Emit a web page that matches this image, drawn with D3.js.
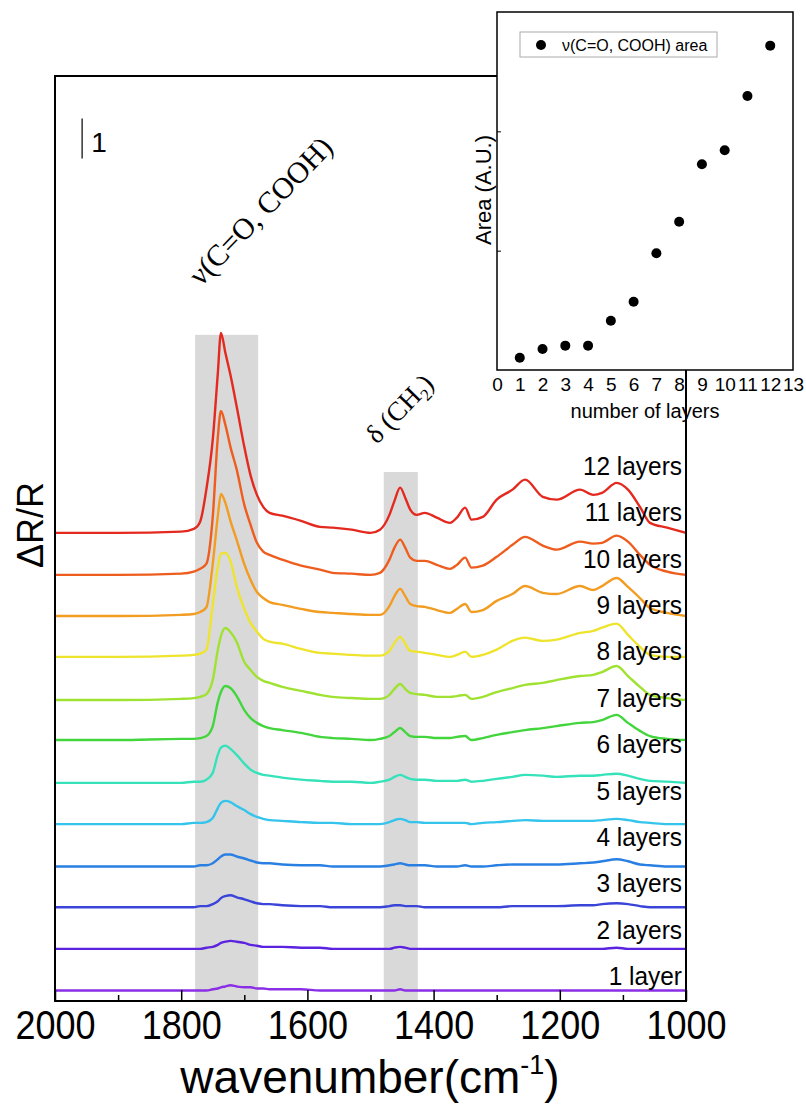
<!DOCTYPE html>
<html>
<head>
<meta charset="utf-8">
<script src="https://cdn.jsdelivr.net/npm/d3@7"></script>
<style>
  body { margin: 0; background: #fff; }
  svg { display: block; }
</style>
</head>
<body>
<script>
// wavenumber grid (cm-1) shared by all spectra
const wavenumbers = [2000,1900,1800,1780,1770,1760,1750,1742,1737,1730,1722,1712,1700,1690,1680,1670,1660,1640,1610,1580,1560,1530,1500,1485,1470,1462,1453,1445,1437,1427,1414,1395,1374,1363,1350,1340,1322,1300,1275,1255,1227,1205,1168,1147,1133,1110,1092,1073,1057,1030,1000];

// ΔR/R of each spectrum above its own baseline (units of the "1" scale bar)
const layer1  = [0,0,0,0,0,0,.03,.05,.08,.1,.13,.1,.08,.08,.05,.05,.03,.03,.03,0,0,0,0,0,0,0,.03,0,0,0,0,0,0,0,0,0,0,0,0,0,0,0,0,0,0,0,0,0,0,0,0];
const layer2  = [0,0,0,0,0,.03,.05,.1,.15,.18,.2,.18,.15,.1,.08,.05,.05,.05,.03,.03,0,0,0,0,0,.03,.05,.03,0,0,0,0,0,0,0,0,0,0,0,0,0,0,0,0,0,.03,0,0,0,0,0];
const layer3  = [0,0,0,0,.03,.03,.08,.15,.23,.28,.3,.25,.2,.15,.1,.08,.08,.05,.03,.03,0,0,0,0,.03,.05,.05,.03,.03,.03,0,0,0,0,0,0,0,0,.03,.03,.03,.03,.05,.05,.08,.1,.08,.03,0,0,0];
const layer4  = [0,0,0,0,.03,.03,.08,.18,.25,.3,.3,.25,.2,.15,.1,.08,.08,.05,.03,.03,0,0,0,0,.03,.05,.08,.05,.03,.03,.03,0,0,0,.03,0,0,.03,.05,.05,.05,.05,.08,.1,.13,.18,.13,.05,.03,0,0];
const layer5  = [0,0,0,.03,.03,.05,.15,.4,.53,.58,.55,.45,.35,.25,.18,.13,.1,.08,.05,.03,.03,0,0,0,.05,.1,.13,.1,.05,.05,.03,.03,.03,.03,.03,0,.03,.05,.08,.1,.08,.08,.08,.08,.1,.13,.1,.05,.03,0,0];
const layer6  = [0,0,0,.03,.03,.08,.25,.7,.88,.93,.85,.7,.48,.33,.25,.2,.18,.13,.08,.05,.03,.03,0,.03,.08,.15,.2,.15,.1,.08,.08,.05,.05,.05,.08,.03,.05,.1,.15,.2,.18,.15,.18,.18,.2,.23,.18,.1,.05,.03,0];
const layer7  = [0,0,.03,.03,.05,.1,.35,.95,1.2,1.35,1.3,1.1,.75,.55,.43,.35,.3,.25,.18,.08,.05,.03,0,.03,.1,.2,.3,.2,.1,.08,.08,.05,.05,.08,.1,0,.05,.13,.2,.25,.3,.35,.43,.45,.5,.63,.43,.23,.1,.03,0];
const layer8  = [0,0,.03,.05,.08,.15,.5,1.25,1.6,1.8,1.7,1.45,.95,.75,.58,.48,.43,.33,.23,.13,.08,.05,.03,.03,.13,.28,.4,.28,.18,.15,.13,.08,.08,.1,.13,.03,.08,.2,.3,.38,.43,.5,.6,.63,.7,.85,.6,.33,.13,.05,0];
const layer9  = [0,0,.03,.05,.08,.18,1.3,2.25,2.58,2.6,2.4,1.75,1.2,.85,.63,.45,.38,.33,.2,.1,.08,.05,.03,.03,.15,.35,.5,.33,.15,.13,.1,.05,0,.05,.13,0,.05,.18,.4,.48,.4,.43,.6,.65,.73,.83,.55,.25,.05,0,0];
const layer10 = [0,0,.03,.05,.1,.22,1.3,2.5,3.05,2.83,2.38,1.9,1.3,.9,.6,.45,.35,.28,.18,.1,.08,.05,.03,.03,.25,.5,.68,.5,.3,.25,.23,.15,.08,.18,.3,.1,.15,.38,.55,.75,.58,.55,.75,.65,.75,.95,.73,.45,.2,.08,0];
const layer11 = [0,0,.03,.08,.15,.28,1.45,3.43,4.1,3.75,3.2,2.63,1.75,1.25,.8,.58,.5,.38,.23,.13,.05,.03,0,.05,.38,.68,.88,.68,.43,.35,.35,.25,.15,.25,.43,.18,.23,.45,.75,.95,.73,.63,.83,.78,.8,.98,.83,.5,.25,.08,0];
const layer12 = [0,0,.03,.1,.28,1.1,2.33,3.98,5,4.5,3.95,3.15,2.15,1.43,.95,.65,.5,.43,.3,.15,.13,.08,0,.08,.45,.8,1.13,.88,.58,.45,.5,.38,.25,.38,.63,.33,.4,.83,1.08,1.33,.9,.83,1.08,.95,1,1.25,1.08,.65,.25,.13,0];

const layerCounts = [1,2,3,4,5,6,7,8,9,10,11,12];
const spectra = [layer1,layer2,layer3,layer4,layer5,layer6,layer7,layer8,layer9,layer10,layer11,layer12];
// vertical offset of each spectrum (stacked plot)
const offsets = [0,1.04,2.08,3.1,4.16,5.19,6.26,7.26,8.34,9.36,10.39,11.44];
const colors = ["#8b2fe6","#5b22e0","#3a44d8","#2a80e2","#34c4ec","#36e2ba","#42d63c","#a0e232","#eee42e","#f29c22","#ee5d1e","#e4291f"];

// highlighted bands [from, to] in cm-1 and their top in ΔR/R units
const bandRanges = [[1778,1678],[1479,1425]];
const bandTops = [16.39,12.96];

const xTicks = [2000,1800,1600,1400,1200,1000];
const xMinorTicks = [1900,1700,1500,1300,1100];

// inset: ν(C=O, COOH) area vs number of layers
const insetLayers = [1,2,3,4,5,6,7,8,9,10,11,12];
const insetArea = [0.103,0.176,0.204,0.204,0.413,0.572,0.978,1.243,1.724,1.841,2.296,2.718];
const insetXTicks = [0,1,2,3,4,5,6,7,8,9,10,11,12,13];
const insetYTicks = [1,2];

const W = 806, H = 1106;
const sans = "'Liberation Sans', Arial, sans-serif";
const serif = "'Liberation Serif', 'Times New Roman', serif";

const svg = d3.select("body").append("svg")
  .attr("width", W)
  .attr("height", H)
  .style("font-family", sans);

const x = d3.scaleLinear().domain([2000, 1000]).range([55, 686]);
const y = d3.scaleLinear().domain([-0.2625, 22.86]).range([1001, 76]);

// grey bands
svg.append("g").selectAll("rect")
  .data(bandRanges)
  .join("rect")
  .attr("x", d => x(d[0]))
  .attr("width", d => x(d[1]) - x(d[0]))
  .attr("y", (d, i) => y(bandTops[i]))
  .attr("height", (d, i) => y.range()[0] - y(bandTops[i]))
  .attr("fill", "#d9d9d9");

// spectra
spectra.forEach((vals, i) => {
  const line = d3.line()
    .x((v, j) => x(wavenumbers[j]))
    .y(v => y(v + offsets[i]))
    .curve(d3.curveMonotoneX);
  svg.append("path")
    .attr("d", line(vals))
    .attr("fill", "none")
    .attr("stroke", colors[i])
    .attr("stroke-width", 2.4)
    .attr("stroke-linejoin", "round");
});

// layer labels
const labelY = d3.scaleLinear().domain([1, 12]).range([985, 475]);
svg.append("g").selectAll("text")
  .data(layerCounts)
  .join("text")
  .attr("transform", d => `translate(682,${labelY(d)}) scale(0.94,1)`)
  .attr("text-anchor", "end")
  .attr("font-size", 26)
  .text(d => d === 1 ? "1 layer" : d + " layers");

// x axis with inward ticks
svg.append("g")
  .attr("transform", `translate(0,${y.range()[0]})`)
  .call(d3.axisBottom(x).tickValues(xMinorTicks).tickSizeInner(-6).tickSizeOuter(0).tickFormat(""))
  .call(g => g.select(".domain").remove())
  .call(g => g.selectAll("line").attr("stroke", "#000").attr("stroke-width", 1.5));

svg.append("g")
  .attr("transform", `translate(0,${y.range()[0]})`)
  .call(d3.axisBottom(x).tickValues(xTicks).tickSizeInner(-11).tickSizeOuter(0).tickPadding(10).tickFormat(d3.format("d")))
  .call(g => g.select(".domain").remove())
  .call(g => g.selectAll("line").attr("stroke", "#000").attr("stroke-width", 1.5))
  .call(g => g.selectAll("text")
    .attr("font-size", 40).attr("font-family", sans).attr("fill", "#000")
    .attr("transform", "scale(0.9,1)"));

// frame
svg.append("rect")
  .attr("x", x.range()[0]).attr("y", y.range()[1])
  .attr("width", x.range()[1] - x.range()[0])
  .attr("height", y.range()[0] - y.range()[1])
  .attr("fill", "none").attr("stroke", "#000").attr("stroke-width", 2);

// axis titles
const xt = svg.append("text")
  .attr("x", 370).attr("y", 1093)
  .attr("text-anchor", "middle")
  .attr("font-size", 46);
xt.append("tspan").text("wavenumber(cm");
xt.append("tspan").attr("font-size", 27).attr("dy", -19).text("-1");
xt.append("tspan").attr("dy", 19).text(")");

svg.append("text")
  .attr("transform", "translate(43,525) rotate(-90)")
  .attr("text-anchor", "middle")
  .attr("font-size", 36)
  .text("ΔR/R");

// scale bar
svg.append("line")
  .attr("x1", x(1957)).attr("x2", x(1957))
  .attr("y1", y(20.8)).attr("y2", y(21.8))
  .attr("stroke", "#333").attr("stroke-width", 1.5);
svg.append("text")
  .attr("x", x(1957) + 9).attr("y", y(20.95))
  .attr("font-size", 28)
  .text("1");

// band annotations
svg.append("text")
  .attr("transform", "translate(201,287) rotate(-46)")
  .attr("font-family", serif)
  .attr("font-size", 30)
  .text("ν(C=O, COOH)");

const dl = svg.append("text")
  .attr("transform", "translate(377,445) rotate(-46)")
  .attr("font-family", serif)
  .attr("font-size", 27);
dl.append("tspan").text("δ (CH");
dl.append("tspan").attr("font-size", 17).attr("dy", 6).text("2");
dl.append("tspan").attr("dy", -6).text(")");

// ---------- inset ----------
const ix = d3.scaleLinear().domain([0, 13]).range([497, 793]);
const iy = d3.scaleLinear().domain([0, 3]).range([370, 12]);

svg.append("rect")
  .attr("x", ix.range()[0]).attr("y", iy.range()[1])
  .attr("width", ix.range()[1] - ix.range()[0])
  .attr("height", iy.range()[0] - iy.range()[1])
  .attr("fill", "#fff").attr("stroke", "#000").attr("stroke-width", 1.5);

svg.append("g")
  .attr("transform", `translate(0,${iy.range()[0]})`)
  .call(d3.axisBottom(ix).tickValues(insetXTicks).tickSizeInner(0).tickSizeOuter(0).tickPadding(8))
  .call(g => g.select(".domain").remove())
  .call(g => g.selectAll("text").attr("font-size", 19).attr("font-family", sans).attr("fill", "#000"));

svg.append("g")
  .attr("transform", `translate(${ix.range()[0]},0)`)
  .call(d3.axisLeft(iy).tickValues(insetYTicks).tickSizeInner(-4).tickSizeOuter(0).tickFormat(""))
  .call(g => g.select(".domain").remove())
  .call(g => g.selectAll("line").attr("stroke", "#000").attr("stroke-width", 1));

svg.append("g").selectAll("circle")
  .data(insetLayers)
  .join("circle")
  .attr("cx", d => ix(d))
  .attr("cy", (d, i) => iy(insetArea[i]))
  .attr("r", 5)
  .attr("fill", "#000");

svg.append("text")
  .attr("x", (ix.range()[0] + ix.range()[1]) / 2).attr("y", 418)
  .attr("text-anchor", "middle")
  .attr("font-size", 20)
  .text("number of layers");

svg.append("text")
  .attr("transform", "translate(491,190) rotate(-90)")
  .attr("text-anchor", "middle")
  .attr("font-size", 22)
  .text("Area (A.U.)");

// legend
svg.append("rect")
  .attr("x", 520).attr("y", 32).attr("width", 197).attr("height", 25)
  .attr("fill", "#fff").attr("stroke", "#aaa").attr("stroke-width", 1);
svg.append("circle").attr("cx", 541).attr("cy", 45).attr("r", 5).attr("fill", "#000");
svg.append("text")
  .attr("x", 562).attr("y", 51)
  .attr("font-size", 16)
  .text("ν(C=O, COOH) area");
</script>
</body>
</html>
